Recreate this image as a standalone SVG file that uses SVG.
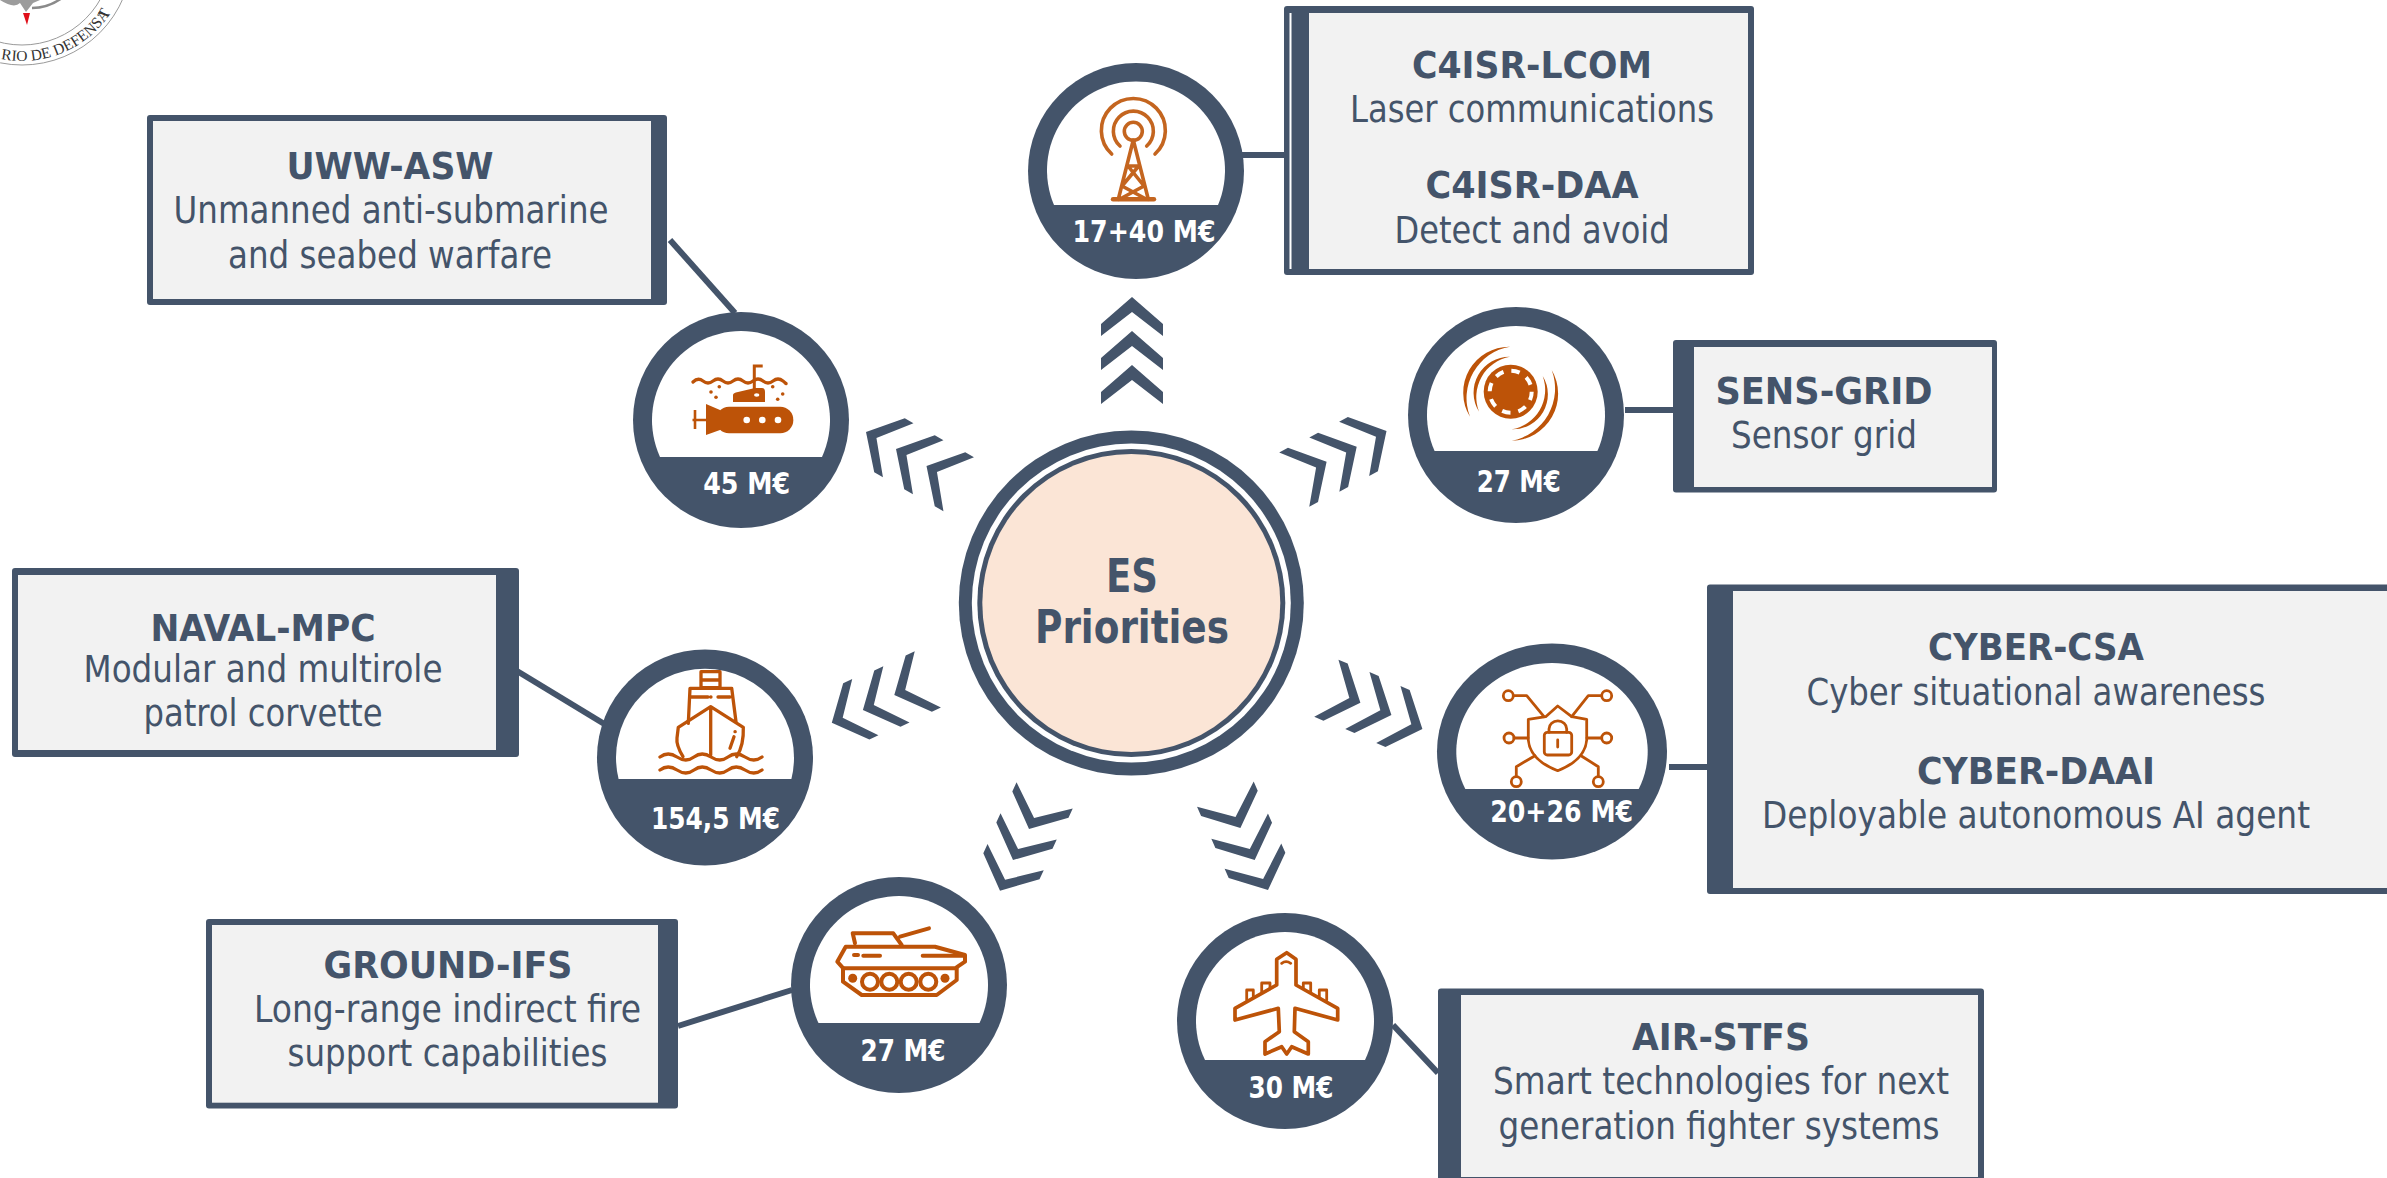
<svg xmlns="http://www.w3.org/2000/svg" width="2387" height="1178" viewBox="0 0 2387 1178">
<style>
text{font-family:"DejaVu Sans Condensed","DejaVu Sans","Liberation Sans",sans-serif;text-anchor:middle;fill:#44546A}
.t{font-size:38px;font-weight:700}
.d{font-size:37px}
.a{font-size:30px;font-weight:700;fill:#fff}
.c{font-size:46px;font-weight:700}
.dk{fill:#44546A}
.lt{fill:#F2F2F2}
.wh{fill:#fff}
.or{fill:#BD5308}
.ln{fill:none;stroke:#BD5308;stroke-width:3.3;stroke-linecap:round;stroke-linejoin:round}
.tw{fill:none;stroke:#C4651F;stroke-width:3.6;stroke-linecap:round;stroke-linejoin:round}
.cn{stroke:#44546A;stroke-width:6;fill:none}
.seal{fill:none;stroke:#9a9a9a;stroke-width:1}
</style>
<defs>
<polygon id="chev" class="dk" points="0,0 31,27 31,39 0,15 -31,39 -31,27"/>
<polygon id="chev2" class="dk" points="0,0 31,27 31,37 0,12 -31,37 -31,27"/>
</defs>
<rect width="2387" height="1178" fill="#fff"/>
<g id="seal">
<circle class="seal" cx="22" cy="-45" r="110"/>
<circle class="seal" cx="22" cy="-45" r="90"/>
<path d="M0,0 Q14,9 20,3 L26,12 L33,3 L40,0Z" fill="#9c9c9c"/>
<path d="M32,8 Q48,8 62,-2" fill="none" stroke="#8a8a8a" stroke-width="2.5"/>
<path d="M23,13 H30 L27,25 Z" fill="#E0101A"/>
<path id="sealArc" d="M0,58.7 A106 106 0 0 0 121.6,-9" fill="none"/>
<text style="font-family:'Liberation Serif',serif;font-size:15.5px;fill:#333;text-anchor:start"><textPath href="#sealArc" startOffset="1">RIO DE DEFENSA</textPath></text>
<text x="108" y="16" transform="rotate(-62 108 16)" style="font-family:'Liberation Serif',serif;font-size:15px;fill:#333">T</text>
</g>
<g id="connectors">
<path class="cn" d="M670,240 L735,313"/>
<path class="cn" d="M1242,155 H1284"/>
<path class="cn" d="M1625,410 H1673"/>
<path class="cn" d="M1669,767 H1707"/>
<path class="cn" d="M1393,1025 L1438,1073"/>
<path class="cn" d="M678,1026 L792,990"/>
<path class="cn" d="M517,671 L606,725"/>
</g>
<g id="arrows">
<use href="#chev" transform="translate(1132,297)"/><use href="#chev" transform="translate(1132,331)"/><use href="#chev" transform="translate(1132,365)"/>
<use href="#chev2" transform="translate(1386.5,431) rotate(61)"/><use href="#chev2" transform="translate(1356.7,446.7) rotate(61)"/><use href="#chev2" transform="translate(1326.6,461.7) rotate(61)"/>
<use href="#chev2" transform="translate(1422.4,729) rotate(113)"/><use href="#chev2" transform="translate(1391.4,715) rotate(113)"/><use href="#chev2" transform="translate(1360.4,702.7) rotate(113)"/>
<use href="#chev2" transform="translate(1268,890) rotate(156)"/><use href="#chev2" transform="translate(1254.7,860) rotate(156)"/><use href="#chev2" transform="translate(1240.4,828) rotate(156)"/>
<use href="#chev2" transform="translate(1000,890.7) rotate(-155)"/><use href="#chev2" transform="translate(1013,860) rotate(-155)"/><use href="#chev2" transform="translate(1029,829) rotate(-155)"/>
<use href="#chev2" transform="translate(831.8,722.7) rotate(-115)"/><use href="#chev2" transform="translate(862.9,710) rotate(-115)"/><use href="#chev2" transform="translate(894.3,695) rotate(-115)"/>
<use href="#chev2" transform="translate(866,432) rotate(-60.5)"/><use href="#chev2" transform="translate(896,449) rotate(-60.5)"/><use href="#chev2" transform="translate(926.5,466) rotate(-60.5)"/>
</g>
<g id="center">
<circle class="dk" cx="1131.3" cy="603" r="172.5"/>
<circle class="wh" cx="1131.3" cy="603" r="159.5"/>
<circle class="dk" cx="1131.3" cy="603" r="154"/>
<circle cx="1131.3" cy="603" r="149" fill="#FBE5D6"/>
<text class="c" x="1132" y="592" textLength="52" lengthAdjust="spacingAndGlyphs">ES</text>
<text class="c" x="1132" y="643" textLength="194" lengthAdjust="spacingAndGlyphs">Priorities</text>
</g>
<g id="node-uww">
<rect class="dk" x="147" y="115" width="520" height="190" rx="3"/><rect class="lt" x="153" y="121" width="498" height="178"/>
<text class="t" x="390" y="178.6" textLength="207" lengthAdjust="spacingAndGlyphs">UWW-ASW</text>
<text class="d" x="391" y="223.4" textLength="435" lengthAdjust="spacingAndGlyphs">Unmanned anti-submarine</text>
<text class="d" x="390" y="268" textLength="324" lengthAdjust="spacingAndGlyphs">and seabed warfare</text>
<circle class="dk" cx="741" cy="420" r="108"/><path class="wh" d="M660,457 A89,89 0 1 1 822,457 Z"/>
<text class="a" x="746.7" y="494" textLength="87" lengthAdjust="spacingAndGlyphs">45 M€</text>
<path fill="none" stroke="#BD5308" stroke-width="3.2" stroke-linecap="round" d="M693,382 q5,-5 10,-1 t10,0 t10,0 t10,0 t10,0 t10,0 t10,0 t10,0 t10,0 t2,2"/>
<path fill="none" stroke="#BD5308" stroke-width="3" d="M754.3,392 V366 H762.7"/>
<path class="or" d="M733,402 V395 Q733,393 738,392 L755,388 H762 Q765,388 765,392 V402 Z"/>
<ellipse class="wh" cx="756.7" cy="395" rx="2.7" ry="1.8"/>
<rect class="or" x="716" y="406.7" width="77.3" height="26.6" rx="13"/>
<polygon class="or" points="706,404 720,410 720,430 706,435"/>
<path fill="none" stroke="#BD5308" stroke-width="2.6" d="M692.5,420 H708 M695,410 V429"/>
<circle class="wh" cx="746.7" cy="420" r="3.3"/><circle class="wh" cx="762.3" cy="420" r="3.3"/><circle class="wh" cx="778" cy="420" r="3.3"/>
<g class="or"><circle cx="711" cy="392" r="1.8"/><circle cx="719.3" cy="386.7" r="1.8"/><circle cx="716" cy="397.3" r="1.8"/><circle cx="772.7" cy="386.7" r="1.8"/><circle cx="782.7" cy="394" r="1.8"/><circle cx="777.7" cy="399.3" r="1.8"/></g>
</g>
<g id="node-c4isr">
<rect class="dk" x="1284" y="6" width="470" height="269" rx="3"/><rect class="lt" x="1309" y="13" width="439" height="256"/>
<rect class="wh" x="1289.5" y="13" width="2" height="256"/>
<text class="t" x="1532" y="77.6" textLength="240" lengthAdjust="spacingAndGlyphs">C4ISR-LCOM</text>
<text class="d" x="1532" y="122.4" textLength="364" lengthAdjust="spacingAndGlyphs">Laser communications</text>
<text class="t" x="1532" y="198" textLength="213" lengthAdjust="spacingAndGlyphs">C4ISR-DAA</text>
<text class="d" x="1532" y="243" textLength="275" lengthAdjust="spacingAndGlyphs">Detect and avoid</text>
<circle class="dk" cx="1136" cy="171" r="108"/><path class="wh" d="M1054,205 A89,89 0 1 1 1218,205 Z"/>
<text class="a" x="1144" y="241.7" textLength="143" lengthAdjust="spacingAndGlyphs">17+40 M€</text>
<circle class="tw" cx="1133.3" cy="131.3" r="9"/>
<path class="tw" d="M1120,146 A20,20 0 1 1 1146.7,146 M1111.7,154 A32,32 0 1 1 1155,154"/>
<path class="tw" d="M1133.3,140 L1118.3,199.3 M1133.3,140 L1148.3,199.3 M1128,166 H1138.7 M1128,166 L1144,186 M1138.7,166 L1122,186 M1122,186 L1146,199 M1144,186 L1120,199"/>
<path class="tw" style="stroke-width:4.4" d="M1113,199.3 H1154"/>
</g>
<g id="node-sens">
<rect class="dk" x="1673" y="340" width="324" height="152.5" rx="3"/><rect class="lt" x="1694" y="347" width="298" height="140"/>
<text class="t" x="1824" y="404" textLength="217" lengthAdjust="spacingAndGlyphs">SENS-GRID</text>
<text class="d" x="1824" y="447.6" textLength="186" lengthAdjust="spacingAndGlyphs">Sensor grid</text>
<circle class="dk" cx="1516" cy="415" r="108"/><path class="wh" d="M1434.6,451 A89,89 0 1 1 1597.4,451 Z"/>
<text class="a" x="1518.7" y="491.7" textLength="84" lengthAdjust="spacingAndGlyphs">27 M€</text>
<circle class="or" cx="1510.7" cy="391.7" r="27"/>
<circle cx="1510.7" cy="391.7" r="21" fill="none" stroke="#fff" stroke-width="4" stroke-dasharray="8.5 8"/>
<path class="or" d="M1510,346.7 A46,46 0 0 0 1470,416.7 A52,52 0 0 1 1510,346.7Z M1510,356.7 A36,36 0 0 0 1479,411.7 A41,41 0 0 1 1510,356.7Z M1551.7,370 A47,47 0 0 1 1511.7,440.7 A53,53 0 0 0 1551.7,370Z M1542.7,376 A35,35 0 0 1 1511.7,429.3 A40,40 0 0 0 1542.7,376Z"/>
</g>
<g id="node-cyber">
<rect class="dk" x="1707" y="584.5" width="700" height="309.5" rx="3"/><rect class="lt" x="1733" y="591" width="674" height="297"/>
<text class="t" x="2036" y="660" textLength="216" lengthAdjust="spacingAndGlyphs">CYBER-CSA</text>
<text class="d" x="2036" y="705" textLength="459" lengthAdjust="spacingAndGlyphs">Cyber situational awareness</text>
<text class="t" x="2036" y="784" textLength="238" lengthAdjust="spacingAndGlyphs">CYBER-DAAI</text>
<text class="d" x="2036" y="828" textLength="548" lengthAdjust="spacingAndGlyphs">Deployable autonomous AI agent</text>
<ellipse class="dk" cx="1552" cy="751.5" rx="115" ry="108"/><path class="wh" d="M1465.3,789 A95.7,88.5 0 1 1 1638.7,789 Z"/>
<text class="a" x="1561.7" y="822" textLength="143" lengthAdjust="spacingAndGlyphs">20+26 M€</text>
<g class="ln" style="stroke-width:2.8">
<path d="M1557.7,706 L1545.7,716.7 L1528.3,719.3 V740 Q1530,760 1557.7,770.7 Q1585,760 1586.7,740 V719.3 L1571.7,716.7 Z"/>
<rect x="1544.3" y="732.3" width="27.4" height="22.7" rx="3"/>
<path d="M1549,732.3 V729 A8.8,8 0 0 1 1566.7,729 V732.3 M1557.7,740 V747"/>
<circle cx="1508.3" cy="695.7" r="5"/><circle cx="1606.7" cy="695.7" r="5"/><circle cx="1509" cy="738" r="5"/><circle cx="1606.7" cy="738" r="5"/><circle cx="1516.3" cy="781.7" r="5"/><circle cx="1598.3" cy="781.7" r="5"/>
<path d="M1513.3,695.7 H1526.7 L1544,716.7 M1601.7,695.7 H1588.3 L1571.7,716.7 M1514,738 H1528 M1587,738 H1601.7 M1516.3,776.7 V766.7 L1535,755.7 M1598.3,776.7 V766.7 L1581,755.7"/>
</g>
</g>
<g id="node-air">
<rect class="dk" x="1438" y="988.5" width="546" height="196" rx="3"/><rect class="lt" x="1461" y="995" width="517" height="182"/>
<text class="t" x="1721" y="1049.6" textLength="178" lengthAdjust="spacingAndGlyphs">AIR-STFS</text>
<text class="d" x="1721" y="1094" textLength="456" lengthAdjust="spacingAndGlyphs">Smart technologies for next</text>
<text class="d" x="1719" y="1139" textLength="441" lengthAdjust="spacingAndGlyphs">generation fighter systems</text>
<circle class="dk" cx="1285" cy="1021" r="108"/><path class="wh" d="M1205,1060 A89,89 0 1 1 1365,1060 Z"/>
<text class="a" x="1291" y="1098" textLength="85" lengthAdjust="spacingAndGlyphs">30 M€</text>
<g class="ln" style="stroke-width:3.7">
<path d="M1286.7,952.7 L1296,959.3 V985 L1337.7,1008.3 V1020 L1295,1008.3 L1294.3,1031.7 L1308.3,1041.7 V1054 L1291.7,1046.7 L1286.7,1054 L1281.7,1046.7 L1265,1054 V1041.7 L1279.3,1031.7 L1278.3,1008.3 L1235,1020 V1008.3 L1276.7,985 V959.3 Z"/>
<path style="stroke-width:2.8" d="M1246.7,1000 V990 H1253.3 V997 M1261.7,992 V983 H1270 V988 M1303.3,988 V983 H1310.7 V992 M1319.3,997 V990 H1326.7 V1000 M1281.7,963.3 Q1286,960 1290.7,963.3"/>
</g>
</g>
<g id="node-ground">
<rect class="dk" x="206" y="919" width="472" height="189.5" rx="3"/><rect class="lt" x="212" y="925" width="446" height="177.7"/>
<text class="t" x="448" y="978" textLength="249" lengthAdjust="spacingAndGlyphs">GROUND-IFS</text>
<text class="d" x="447.5" y="1022" textLength="387" lengthAdjust="spacingAndGlyphs">Long-range indirect fire</text>
<text class="d" x="447.5" y="1066" textLength="320" lengthAdjust="spacingAndGlyphs">support capabilities</text>
<circle class="dk" cx="899" cy="985" r="108"/><path class="wh" d="M818.5,1023 A89,89 0 1 1 979.5,1023 Z"/>
<text class="a" x="903" y="1061" textLength="85" lengthAdjust="spacingAndGlyphs">27 M€</text>
<g class="ln" style="stroke-width:4">
<path d="M843.3,968.3 L837.3,961.7 L845.7,946.7 H935 L965,955 V961.7 L955,968.3 Z"/>
<path d="M855,943.3 L852.7,933.3 H893.3 L901.7,945 M900,936.7 L929,928.3"/>
<path d="M843,968 V981.7 L861.7,995 H936.7 L956.7,980 V968"/>
<circle cx="870" cy="981.7" r="8"/><circle cx="889.3" cy="981.7" r="8"/><circle cx="908.7" cy="981.7" r="8"/><circle cx="928.3" cy="981.7" r="8"/>
<path d="M854,955 H858 M863.3,955.7 H880 M922.7,955.7 H963"/>
</g>
<circle class="or" cx="852.7" cy="978.3" r="4.5"/><circle class="or" cx="945" cy="978.3" r="4.5"/>
</g>
<g id="node-naval">
<rect class="dk" x="12" y="568" width="507" height="189" rx="3"/><rect class="lt" x="18" y="575" width="478" height="175"/>
<text class="t" x="263" y="641" textLength="225" lengthAdjust="spacingAndGlyphs">NAVAL-MPC</text>
<text class="d" x="263" y="682" textLength="359" lengthAdjust="spacingAndGlyphs">Modular and multirole</text>
<text class="d" x="263" y="726" textLength="239" lengthAdjust="spacingAndGlyphs">patrol corvette</text>
<circle class="dk" cx="705" cy="757.5" r="108"/><path class="wh" d="M618.6,779 A89,89 0 1 1 791.4,779 Z"/>
<text class="a" x="715.5" y="829" textLength="129" lengthAdjust="spacingAndGlyphs">154,5 M€</text>
<g class="ln">
<path d="M701,671.7 H720 V687.7 H701 Z M701,680 H720"/>
<path d="M688.3,723.3 L690,688.3 H731.7 L736,721.7 M690,697 H708 M710.7,697 H711 M718,697 H730"/>
<path d="M683,756.7 Q676,745 677,738 L678.3,727.3 L710.7,706.7 L743.3,727.3 Q744,745 736.7,756.7 M710.7,706.7 V755 M735,731.7 H735.2 M734,736.7 L730,748.3"/>
<path d="M660,757 q8,-6 17,0 t17,0 t17,0 t17,0 t17,0 t17,0"/>
<path d="M660,770 q8,-6 17,0 t17,0 t17,0 t17,0 t17,0 t17,0"/>
</g>
</g>
</svg>
